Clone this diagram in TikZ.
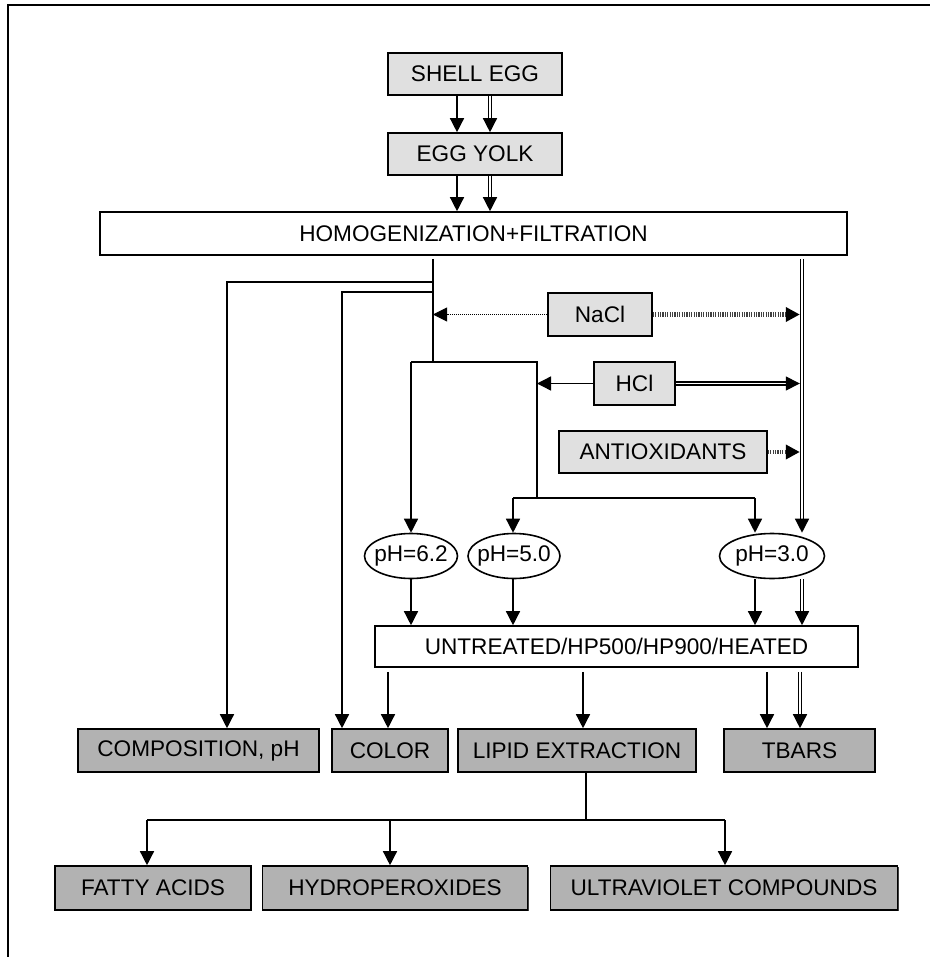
\documentclass[tikz,border=0pt]{standalone}
\usepackage{fontspec}
\setmainfont{Liberation Sans}
\usepackage{tikz}
\usetikzlibrary{shapes.geometric,shadows,arrows.meta}
\definecolor{lightbox}{RGB}{224,224,224}
\definecolor{darkbox}{RGB}{178,178,178}

\begin{document}
\begin{tikzpicture}[x=0.5pt, y=-0.5pt, >={Triangle[length=7pt,width=7pt]},
	font=\fontsize{11.3}{13.6}\selectfont, line width=0.7pt,
	box/.style={draw, rectangle, line width=0.8pt, inner sep=0pt, fill=#1,
		drop shadow={shadow xshift=0.7pt, shadow yshift=-0.7pt, fill=black!75, opacity=1}},
	box/.default=white,
	oval/.style={draw, ellipse, fill=white, line width=0.8pt, inner xsep=-3pt, inner ysep=0pt, minimum height=22.5pt},
	dbl/.style={double, double distance=0.9pt, line width=0.6pt, shorten >=6.5pt},
	dots/.style={line width=0.5pt, dash pattern=on 0.5pt off 0.5pt},
	hatch/.style={draw=black!75, line width=2.2pt, dash pattern=on 0.6pt off 0.6pt, -{Triangle[length=7pt,width=7pt,color=black]}}]
	\useasboundingbox (0,0) rectangle (930,957);
	\draw [line width=1pt] (8,957) -- (8,5) -- (930,5);
	\node [box=lightbox, minimum width=87pt, minimum height=21pt] (shell) at (475,74) {SHELL EGG};
	\node [box=lightbox, minimum width=87pt, minimum height=21pt] (yolk) at (475,154) {EGG YOLK};
	\node [box, minimum width=373.5pt, minimum height=21.5pt] (homog) at (473.5,233.5) {HOMOGENIZATION+FILTRATION};
	\node [box=lightbox, minimum width=52pt, minimum height=21.5pt] (nacl) at (600,314.5) {NaCl};
	\node [box=lightbox, minimum width=40.5pt, minimum height=21.5pt] (hcl) at (634.5,383.5) {HCl};
	\node [box=lightbox, minimum width=104pt, minimum height=21pt] (antiox) at (663,452) {ANTIOXIDANTS};
	\node [oval, minimum width=46.5pt] (ph62) at (411,556) {pH=6.2};
	\node [oval, minimum width=46pt] (ph50) at (514,556) {pH=5.0};
	\node [oval, minimum width=52.5pt] (ph30) at (772,556) {pH=3.0};
	\node [box, minimum width=241.5pt, minimum height=20.5pt] (treat) at (616.5,646.5) {UNTREATED/HP500/HP900/HEATED};
	\node [box=darkbox, minimum width=120.5pt, minimum height=21.5pt] (comp) at (198.5,750.5) {COMPOSITION, pH};
	\node [box=darkbox, minimum width=58pt, minimum height=21.5pt] (color) at (390,750.5) {COLOR};
	\node [box=darkbox, minimum width=119pt, minimum height=21.5pt] (lipid) at (577,750.5) {LIPID EXTRACTION};
	\node [box=darkbox, minimum width=75.5pt, minimum height=21.5pt] (tbars) at (799.5,750.5) {TBARS};
	\node [box=darkbox, minimum width=98pt, minimum height=22pt] (fatty) at (153,888) {FATTY ACIDS};
	\node [box=darkbox, minimum width=132.5pt, minimum height=22pt] (hydro) at (395,888) {HYDROPEROXIDES};
	\node [box=darkbox, minimum width=173.5pt, minimum height=22pt] (uv) at (724,888) {ULTRAVIOLET COMPOUNDS};
	\coordinate (xsgl) at (457,0);
	\coordinate (xdbl) at (490,0);
	\coordinate (vmain) at (433,362);
	\coordinate (vright) at (802,0);
	\coordinate (kcomp) at (227,282);
	\coordinate (kcolor) at (342,292);
	\coordinate (k62) at (411,362);
	\coordinate (kacid) at (537,362);
	\coordinate (kfork) at (537,498);
	\coordinate (k50) at (513,498);
	\coordinate (k30) at (755,498);
	\coordinate (xcolor) at (388,0);
	\coordinate (xlipid) at (583,0);
	\coordinate (xtbars) at (767,0);
	\coordinate (xtbars2) at (800,0);
	\coordinate (klip) at (586,820);
	\coordinate (kfatty) at (147,820);
	\coordinate (khydro) at (390,820);
	\coordinate (kuv) at (725,820);
	\path [->] (shell.south -| xsgl) edge (yolk.north -| xsgl);
	\draw [dbl] (shell.south -| xdbl) -- (yolk.north -| xdbl);
	\path [->] ([yshift=7pt]yolk.north -| xdbl) edge (yolk.north -| xdbl);
	\path [->] (yolk.south -| xsgl) edge (homog.north -| xsgl);
	\draw [dbl] (yolk.south -| xdbl) -- (homog.north -| xdbl);
	\path [->] ([yshift=7pt]homog.north -| xdbl) edge (homog.north -| xdbl);
	\draw [shorten <=1.5pt] (homog.south -| vmain) -- (vmain);
	\draw [->] (kcomp -| vmain) -- (kcomp) -- (comp.north -| kcomp);
	\draw [->] (kcolor -| vmain) -- (kcolor) -- (color.north -| kcolor);
	\draw (k62) -- (kacid) -- (kfork);
	\draw (k50) -- (k30);
	\path [->] (k62) edge (ph62.north);
	\path [->] (k50) edge (ph50.north -| k50);
	\path [->] (k30) edge (ph30.north -| k30);
	\draw [dbl, shorten <=1.5pt] (homog.south -| vright) -- (ph30.north -| vright);
	\path [->] ([yshift=7pt]ph30.north -| vright) edge (ph30.north -| vright);
	\path [->, dots] (nacl.west) edge (nacl -| vmain);
	\draw [hatch, shorten >=1.1pt] (nacl.east) -- (nacl -| vright);
	\path [->] (hcl.west) edge (hcl -| kacid);
	\draw [dbl, shorten >=7.6pt] (hcl.east) -- (hcl -| vright);
	\path [->, shorten >=1.1pt] ([xshift=-8.1pt]hcl -| vright) edge (hcl -| vright);
	\draw [hatch, shorten >=1.1pt] (antiox.east) -- (antiox -| vright);
	\path [->] (ph62) edge (treat.north -| ph62);
	\path [->] (ph50.south -| k50) edge (treat.north -| k50);
	\path [->] (ph30.south -| k30) edge (treat.north -| k30);
	\draw [dbl] (ph30.south -| vright) -- (treat.north -| vright);
	\path [->] ([yshift=7pt]treat.north -| vright) edge (treat.north -| vright);
	\path [->, shorten <=2pt] (treat.south -| xcolor) edge (color.north -| xcolor);
	\path [->, shorten <=2pt] (treat.south -| xlipid) edge (lipid.north -| xlipid);
	\path [->, shorten <=2pt] (treat.south -| xtbars) edge (tbars.north -| xtbars);
	\draw [dbl, shorten <=2pt] (treat.south -| xtbars2) -- (tbars.north -| xtbars2);
	\path [->] ([yshift=7pt]tbars.north -| xtbars2) edge (tbars.north -| xtbars2);
	\draw (lipid.south -| klip) -- (klip);
	\draw (kfatty) -- (kuv);
	\path [->] (kfatty) edge (fatty.north -| kfatty);
	\path [->] (khydro) edge (hydro.north -| khydro);
	\path [->] (kuv) edge (uv.north -| kuv);
\end{tikzpicture}
\end{document}
